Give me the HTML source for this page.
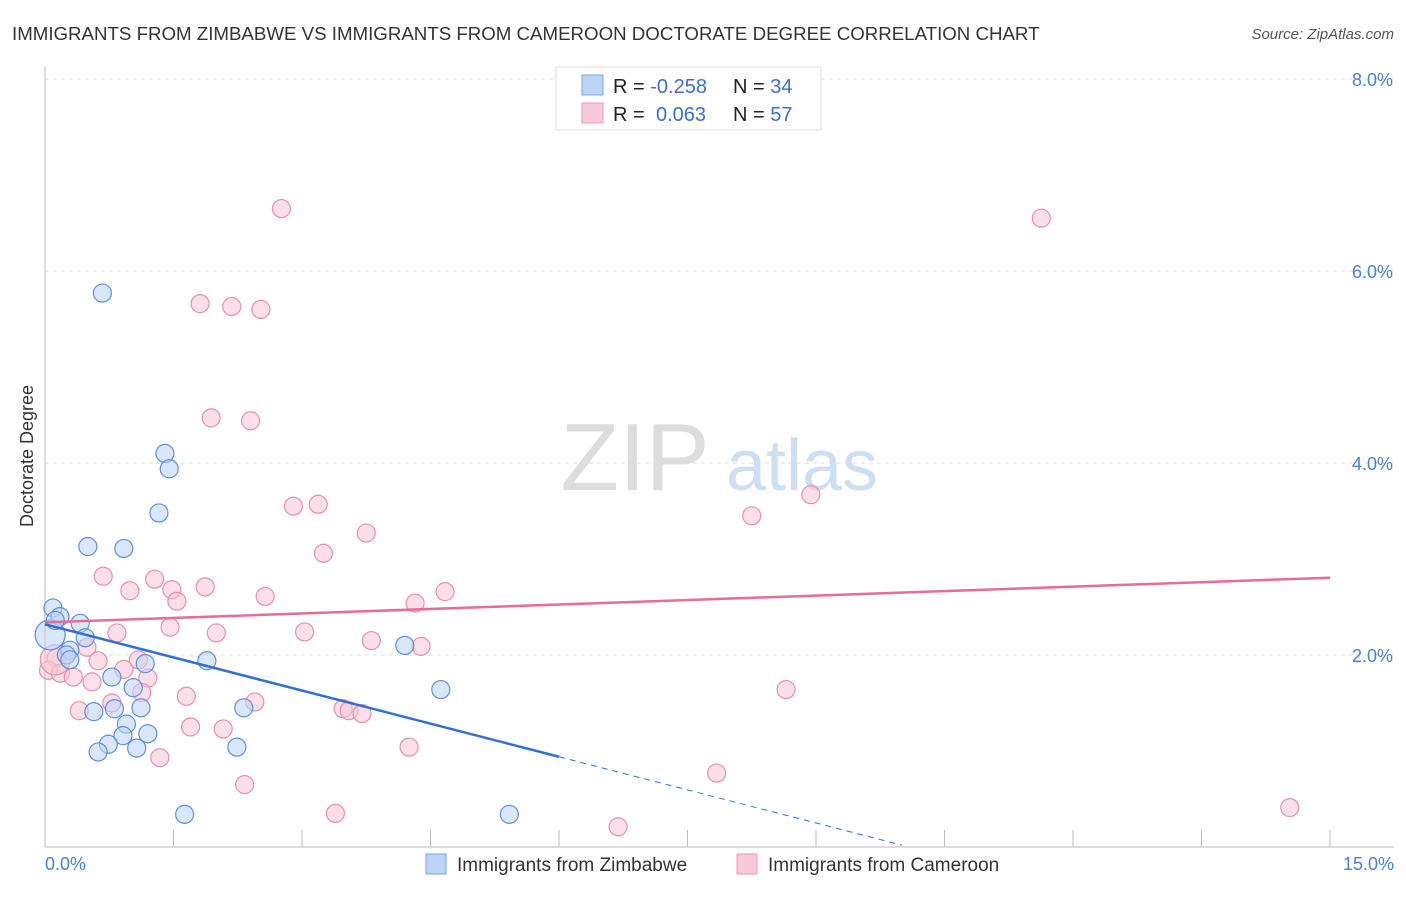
<!DOCTYPE html>
<html><head><meta charset="utf-8">
<style>
body{margin:0;background:#fff;font-family:"Liberation Sans",sans-serif;}
svg text{font-family:"Liberation Sans",sans-serif;}
</style></head>
<body>
<svg id="chart" width="1406" height="892" xmlns="http://www.w3.org/2000/svg">
<text x="12" y="40" font-size="18.7" fill="#333">IMMIGRANTS FROM ZIMBABWE VS IMMIGRANTS FROM CAMEROON DOCTORATE DEGREE CORRELATION CHART</text>
<text x="1394" y="39" font-size="15" fill="#555" text-anchor="end" font-style="italic">Source: ZipAtlas.com</text>
<g id="grid"></g>
<g>
<text x="635" y="490" font-size="96" fill="#ddd" text-anchor="middle" font-family="Liberation Serif">ZIP</text>
<text x="802" y="490" font-size="72" fill="#cfdff3" text-anchor="middle">atlas</text>
</g>
<text transform="translate(33,456) rotate(-90)" font-size="18" fill="#333" text-anchor="middle">Doctorate Degree</text>
<g id="axes"></g><g id="pts"></g><g id="trend"></g>
<g>
<rect x="556" y="67" width="265" height="63" fill="#fff" stroke="#ddd"/>
<rect x="582" y="75" width="21" height="20" fill="#bcd5f7" stroke="#7aa6e6"/>
<rect x="582" y="103" width="21" height="20" fill="#fbcad8" stroke="#ec9ab3"/>
<text x="613" y="93" font-size="20" fill="#222">R = <tspan fill="#3a6fd0">-0.258</tspan></text>
<text x="733" y="93" font-size="20" fill="#222">N = <tspan fill="#3a6fd0">34</tspan></text>
<text x="613" y="121" font-size="20" fill="#222">R = </text><text x="656" y="121" font-size="20" fill="#3a6fd0">0.063</text>
<text x="733" y="121" font-size="20" fill="#222">N = <tspan fill="#3a6fd0">57</tspan></text>
</g>
<g>
<rect x="426" y="854" width="20" height="20" fill="#bcd5f7" stroke="#7aa6e6"/>
<text x="457" y="871" font-size="19" fill="#333">Immigrants from Zimbabwe</text>
<rect x="737" y="854" width="20" height="20" fill="#fbcad8" stroke="#ec9ab3"/>
<text x="768" y="871" font-size="19" fill="#333">Immigrants from Cameroon</text>
</g>
</svg>
<script>
const xTicks=[0,1.5,3,4.5,6,7.5,9,10.5,12,13.5,15];
const yTicks=[2,4,6,8];
const yTickLabels=["2.0%","4.0%","6.0%","8.0%"];
const blueX=[0.093,0.175,0.41,0.47,0.29,0.25,0.29,0.67,1.40,1.45,1.33,0.50,0.92,1.89,1.17,0.78,1.03,0.57,0.81,1.12,0.95,0.91,1.20,0.74,0.62,1.07,2.32,2.24,1.63,4.20,4.62,5.42,0.06,0.12];
const blueY=[2.49,2.40,2.33,2.18,2.05,2.00,1.95,5.77,4.10,3.94,3.48,3.13,3.11,1.94,1.91,1.77,1.66,1.41,1.44,1.45,1.28,1.16,1.18,1.07,0.99,1.03,1.45,1.04,0.34,2.10,1.64,0.34,2.21,2.36];
const pinkX=[2.76,11.63,1.81,2.18,2.52,1.94,2.40,8.94,8.25,2.90,3.19,3.75,3.25,0.68,1.28,0.99,1.48,1.87,1.54,2.57,4.67,4.32,1.46,0.84,2.00,3.03,3.81,4.39,0.49,0.13,0.62,1.09,0.92,0.04,0.18,0.33,0.55,1.20,1.13,0.78,1.65,2.45,8.65,0.40,3.48,3.55,3.70,1.70,2.08,4.25,1.34,7.84,2.33,3.39,6.69,14.53,0.12];
const pinkY=[6.65,6.55,5.66,5.63,5.60,4.47,4.44,3.67,3.45,3.55,3.57,3.27,3.06,2.82,2.79,2.67,2.68,2.71,2.56,2.61,2.66,2.54,2.29,2.23,2.23,2.24,2.15,2.09,2.08,1.97,1.94,1.95,1.85,1.84,1.81,1.77,1.72,1.76,1.61,1.50,1.57,1.51,1.64,1.42,1.44,1.42,1.39,1.25,1.23,1.04,0.93,0.77,0.65,0.35,0.21,0.41,1.95];
const blueTrend=[2.32,-0.23];
const pinkTrend=[2.34,0.031];
const X=v=>45+v/15*1285, Y=v=>847-v*96;
const NS="http://www.w3.org/2000/svg";
function mk(p,t,a){const e=document.createElementNS(NS,t);for(const k in a)e.setAttribute(k,a[k]);document.getElementById(p).appendChild(e);return e;}
yTicks.forEach((t,i)=>{
 const g=mk('grid','line',{x1:45,x2:1394,y1:Y(t),y2:Y(t),stroke:'#ddd','stroke-dasharray':'4,4'});
 
 
 const l=mk('axes','text',{x:1393,y:Y(t)+7,'font-size':18,fill:'#4a7fd6','text-anchor':'end'});
 l.textContent=yTickLabels[i];
 
 
});
const topGrid=mk('grid','line',{x1:45,x2:1394,y1:79,y2:79,stroke:'#ddd','stroke-dasharray':'4,4'});


const ax=mk('axes','line',{x1:45,x2:1394,y1:847,y2:847,stroke:'#bbb'});


const ay=mk('axes','line',{x1:45,x2:45,y1:67,y2:847,stroke:'#bbb'});


xTicks.forEach(t=>{
 const l=mk('axes','line',{x1:X(t),x2:X(t),y1:830,y2:847,stroke:'#bbb'});
 
 
});
[[0,"0.0%","start",45],[15,"15.0%","end",1394]].forEach(d=>{
 const l=mk('axes','text',{x:d[3],y:870,'font-size':18,fill:'#4a7fd6','text-anchor':d[2]});
 l.textContent=d[1];
 
 
});
function pts(xs,ys,fill,stroke,name){xs.forEach((x,i)=>{
 const big=(i===xs.length-1&&name==='pink')||(i===xs.length-2&&name==='blue');
 const c=mk('pts','circle',{cx:X(x),cy:Y(ys[i]),r:big?15:9,fill:fill,'fill-opacity':0.55,stroke:stroke,'stroke-width':1.2});
 
 
});}
pts(pinkX,pinkY,'#f9c4d3','#e890ab','pink');
pts(blueX,blueY,'#bcd4f5','#5b8fe0','blue');
const bl=mk('trend','line',{x1:X(0),y1:Y(blueTrend[0]),x2:X(6),y2:Y(blueTrend[0]+blueTrend[1]*6),stroke:'#2f6fd6','stroke-width':2.5});


const bd=mk('trend','line',{x1:X(6),y1:Y(blueTrend[0]+blueTrend[1]*6),x2:X(10),y2:Y(blueTrend[0]+blueTrend[1]*10),stroke:'#2f6fd6','stroke-width':1,'stroke-dasharray':'6,5'});


const pl=mk('trend','line',{x1:X(0),y1:Y(pinkTrend[0]),x2:X(15),y2:Y(pinkTrend[0]+pinkTrend[1]*15),stroke:'#e66d96','stroke-width':2.5});


</script>
</body></html>
